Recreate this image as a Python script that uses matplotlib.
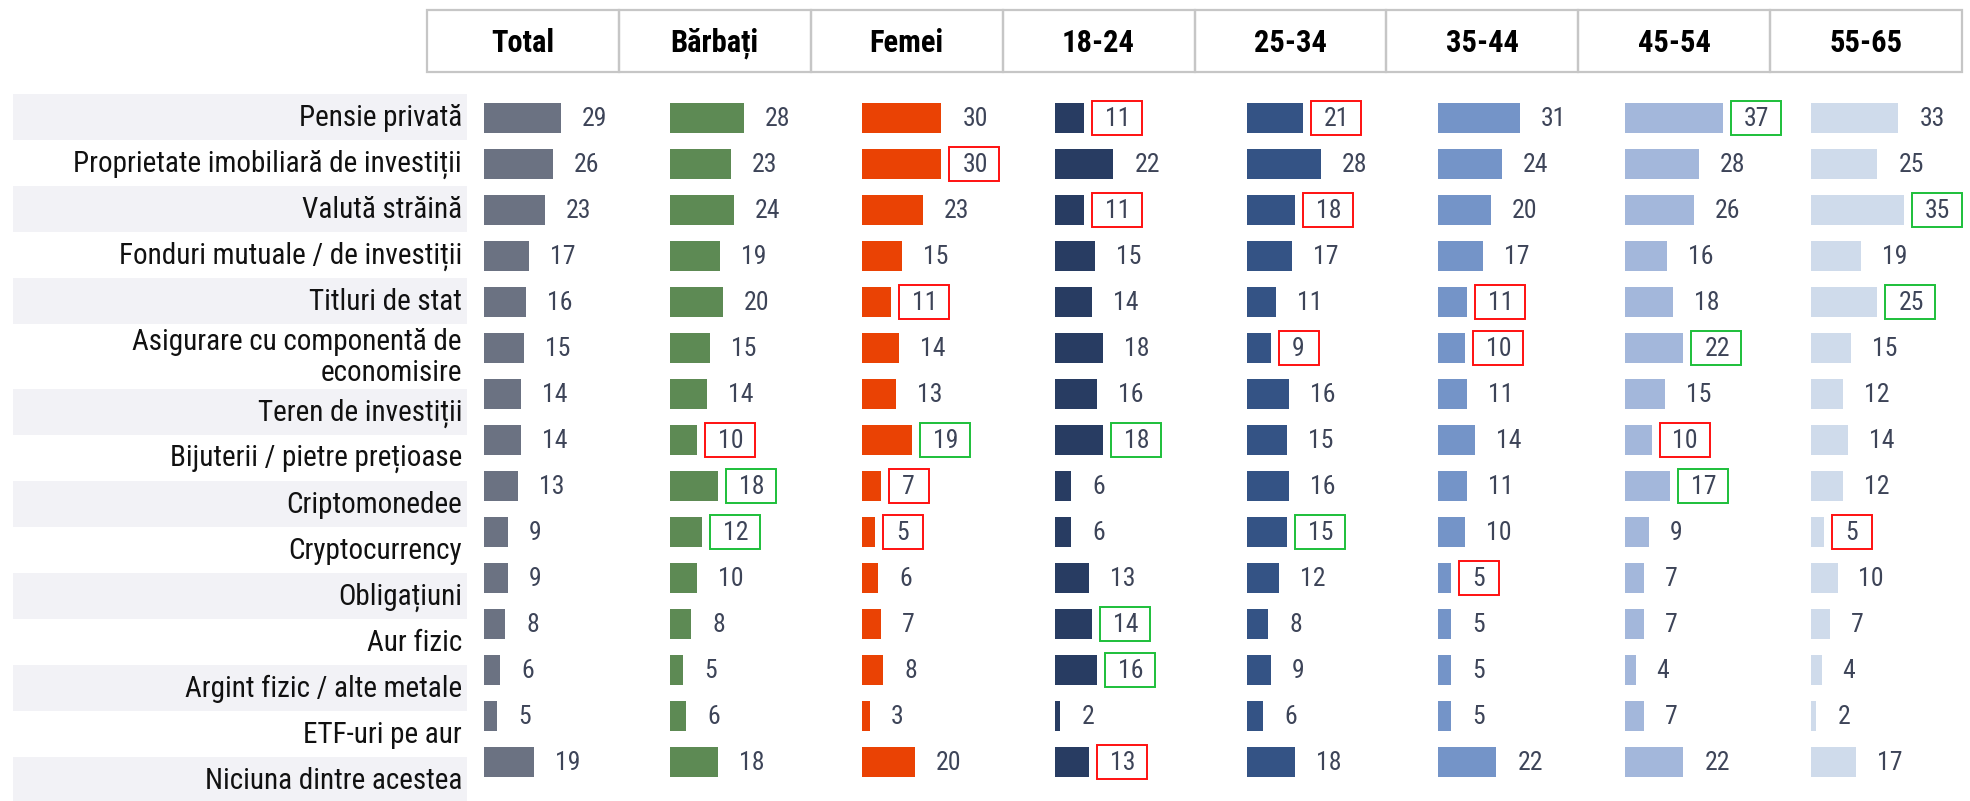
import matplotlib.pyplot as plt
from matplotlib.patches import Rectangle
from matplotlib import font_manager as fm

groups = ['Total', 'Bărbați', 'Femei', '18-24', '25-34', '35-44', '45-54', '55-65']
categories = ['Pensie privată', 'Proprietate imobiliară de investiții', 'Valută străină',
              'Fonduri mutuale / de investiții', 'Titluri de stat',
              'Asigurare cu componentă de\neconomisire', 'Teren de investiții',
              'Bijuterii / pietre prețioase', 'Criptomonedee', 'Cryptocurrency',
              'Obligațiuni', 'Aur fizic', 'Argint fizic / alte metale', 'ETF-uri pe aur',
              'Niciuna dintre acestea']

total = [29, 26, 23, 17, 16, 15, 14, 14, 13, 9, 9, 8, 6, 5, 19]
barbati = [28, 23, 24, 19, 20, 15, 14, 10, 18, 12, 10, 8, 5, 6, 18]
femei = [30, 30, 23, 15, 11, 14, 13, 19, 7, 5, 6, 7, 8, 3, 20]
age_18_24 = [11, 22, 11, 15, 14, 18, 16, 18, 6, 6, 13, 14, 16, 2, 13]
age_25_34 = [21, 28, 18, 17, 11, 9, 16, 15, 16, 15, 12, 8, 9, 6, 18]
age_35_44 = [31, 24, 20, 17, 11, 10, 11, 14, 11, 10, 5, 5, 5, 5, 22]
age_45_54 = [37, 28, 26, 16, 18, 22, 15, 10, 17, 9, 7, 7, 4, 7, 22]
age_55_65 = [33, 25, 35, 19, 25, 15, 12, 14, 12, 5, 10, 7, 4, 2, 17]

# r = red box (significantly lower), g = green box (significantly higher)
hl_total = '...............'
hl_barbati = '.......rgg.....'
hl_femei = '.r..r..grr.....'
hl_18_24 = 'r.r....g...gg.r'
hl_25_34 = 'r.r..r...g.....'
hl_35_44 = '....rr....r....'
hl_45_54 = 'g....g.rg......'
hl_55_65 = '..g.g....r.....'

series = [total, barbati, femei, age_18_24, age_25_34, age_35_44, age_45_54, age_55_65]
highlights = [hl_total, hl_barbati, hl_femei, hl_18_24, hl_25_34, hl_35_44, hl_45_54, hl_55_65]
colors = ['#6B7282', '#5D8A54', '#EA4204', '#283C62', '#345385', '#7494C8', '#A3B7DB', '#CFDBEB']
box_colors = {'r': '#FF1010', 'g': '#1DBF3A'}

names = {f.name for f in fm.fontManager.ttflist}
narrow = 'Liberation Sans'
for cand in ['Liberation Sans Narrow', 'Arial Narrow', 'Roboto Condensed']:
    if cand in names:
        narrow = cand
        break
label_size = 21 if narrow != 'Liberation Sans' else 19.5
plt.rcParams['font.family'] = [narrow, 'DejaVu Sans']

W, H = 1970, 801
fig = plt.figure(figsize=(W / 100, H / 100), dpi=100)

# header row
hx0, hx1, hy0, hy1 = 427, 1962, 10, 72
hax = fig.add_axes([hx0 / W, 1 - hy1 / H, (hx1 - hx0) / W, (hy1 - hy0) / H])
hax.set_xlim(0, len(groups))
hax.set_ylim(0, 1)
hax.axis('off')
for i, g in enumerate(groups):
    hax.add_patch(Rectangle((i, 0), 1, 1, fill=False, ec='#C6C6C6', lw=1.6, clip_on=False))
    hax.text(i + 0.5, 0.47, g, ha='center', va='center', fontsize=22,
             fontweight='bold', color='black')

# category labels with alternating bands
lax = fig.add_axes([0, 0, 470 / W, 1])
lax.set_xlim(0, 470)
lax.set_ylim(H, 0)
lax.axis('off')
y = 94
for i, cat in enumerate(categories):
    h = 46 if '\n' not in cat else 65
    if i % 2 == 0:
        lax.add_patch(Rectangle((13, y), 454, h, color='#F2F2F6', lw=0))
    lax.text(462, y + h / 2 + 1, cat, ha='right', va='center', fontsize=label_size,
             color='#111111', linespacing=1.15)
    y += h

# bar columns
col_x0 = [484, 670, 862, 1055, 1247, 1438, 1625, 1811]
px_per_unit = 2.65
row_top, row_h = 95, 46
n = len(categories)
for c, vals in enumerate(series):
    width_px = 185
    ax = fig.add_axes([col_x0[c] / W, 1 - (row_top + n * row_h) / H,
                       width_px / W, n * row_h / H])
    ax.set_xlim(0, width_px / px_per_unit)
    ax.set_ylim(n - 0.5, -0.5)
    ax.axis('off')
    ax.barh(range(n), vals, height=0.67, color=colors[c])
    gap = 21 / px_per_unit
    for r, v in enumerate(vals):
        ax.text(v + gap, r + 0.03, str(v), ha='left', va='center', fontsize=18.5,
                color='#3D4458')
        flag = highlights[c][r]
        if flag in box_colors:
            bw = (50 if v >= 10 else 40) / px_per_unit
            bx = v + 8 / px_per_unit
            ax.add_patch(Rectangle((bx, r - 0.36), bw, 0.72, fill=False,
                                   ec=box_colors[flag], lw=1.4, clip_on=False))

fig.savefig('out.png', dpi=100, facecolor='white')
